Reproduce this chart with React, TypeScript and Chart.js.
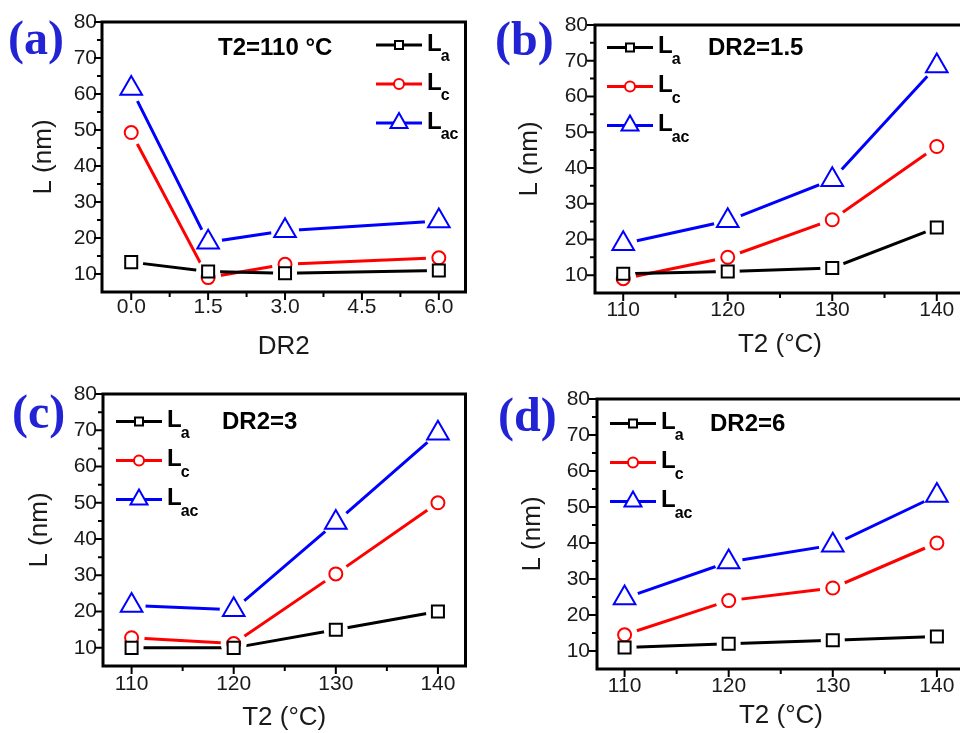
import { useEffect, useRef } from 'react';
import { Chart, registerables } from 'chart.js';

Chart.register(...registerables);

const SANS = '"Liberation Sans", Arial, sans-serif';
const SERIF = '"Liberation Serif", "Times New Roman", serif';

// x positions of the measurements
const dr2Values = [0, 1.5, 3, 6];
const t2Values = [110, 120, 130, 140];

// axis tick values
const dr2Ticks = [0, 1.5, 3, 4.5, 6];
const t2Ticks = [110, 120, 130, 140];
const lTicks = [10, 20, 30, 40, 50, 60, 70, 80];

// (a) T2 = 110 °C, varying DR2
const aLa = [13.3, 10.7, 10.2, 11.0];
const aLc = [49.3, 9.0, 12.7, 14.5];
const aLac = [61.5, 18.8, 22.0, 24.7];

// (b) DR2 = 1.5, varying T2
const bLa = [10.4, 11.0, 12.0, 23.3];
const bLc = [9.0, 15.0, 25.5, 46.0];
const bLac = [18.8, 25.2, 36.7, 68.5];

// (c) DR2 = 3, varying T2
const cLa = [10.0, 10.0, 15.0, 20.0];
const cLc = [12.8, 11.2, 30.4, 50.0];
const cLac = [21.7, 20.5, 44.6, 69.2];

// (d) DR2 = 6, varying T2
const dLa = [11.0, 12.0, 13.0, 14.0];
const dLc = [14.5, 24.0, 27.5, 40.0];
const dLac = [24.7, 34.7, 39.4, 53.2];

// series: L with subscripts a, c, ac
const seriesSubs = ['a', 'c', 'ac'];
const seriesColors = ['#000000', '#ff0000', '#0000ff'];
const seriesStyles = ['rect', 'circle', 'triangle'];
const markerRadius = [8.5, 6.5, 12.5];
const haloRadius = [12, 13, 14];

type Panel = {
  tag: string;
  note: string;
  xs: number[];
  xTicks: number[];
  xDecimals: number;
  xTitle: string;
  series: number[][];
  x: number;
  y: number;
  w: number;
  h: number;
  area: { l: number; t: number; r: number; b: number };
  xMin: number;
  xMax: number;
  yTitleX: number;
  xTickY: number;
  xTitleY: number;
  yLabelGap: number;
  tagX: number;
  tagBase: number;
  noteX: number;
  noteBase: number;
  legX: number;
  legY: number;
};

const panels: Panel[] = [
  {
    tag: '(a)', note: 'T2=110 °C', xs: dr2Values, xTicks: dr2Ticks, xDecimals: 1, xTitle: 'DR2',
    series: [aLa, aLc, aLac],
    x: 0, y: 0, w: 480, h: 366,
    area: { l: 102, t: 22, r: 473, b: 292 },
    xMin: -0.57, xMax: 6.52,
    yTitleX: 43.5, xTickY: 307.5, xTitleY: 347, yLabelGap: 5,
    tagX: 8, tagBase: 53.5, noteX: 218, noteBase: 55, legX: 376, legY: 45,
  },
  {
    tag: '(b)', note: 'DR2=1.5', xs: t2Values, xTicks: t2Ticks, xDecimals: 0, xTitle: 'T2 (°C)',
    series: [bLa, bLc, bLac],
    x: 480, y: 0, w: 500, h: 366,
    area: { l: 115, t: 25, r: 485, b: 293 },
    xMin: 107.3, xMax: 142.7,
    yTitleX: 50, xTickY: 310, xTitleY: 345, yLabelGap: 7,
    tagX: 15, tagBase: 54.5, noteX: 228, noteBase: 55, legX: 127, legY: 47.5,
  },
  {
    tag: '(c)', note: 'DR2=3', xs: t2Values, xTicks: t2Ticks, xDecimals: 0, xTitle: 'T2 (°C)',
    series: [cLa, cLc, cLac],
    x: 0, y: 366, w: 480, h: 367,
    area: { l: 103, t: 28, r: 473, b: 300 },
    xMin: 107.2, xMax: 142.7,
    yTitleX: 40, xTickY: 318, xTitleY: 352, yLabelGap: 6,
    tagX: 12, tagBase: 61.5, noteX: 222, noteBase: 63, legX: 116, legY: 55.5,
  },
  {
    tag: '(d)', note: 'DR2=6', xs: t2Values, xTicks: t2Ticks, xDecimals: 0, xTitle: 'T2 (°C)',
    series: [dLa, dLc, dLac],
    x: 480, y: 366, w: 500, h: 367,
    area: { l: 117, t: 33, r: 485, b: 303 },
    xMin: 107.35, xMax: 142.7,
    yTitleX: 53, xTickY: 320, xTitleY: 350, yLabelGap: 7,
    tagX: 18, tagBase: 64.5, noteX: 230, noteBase: 65, legX: 130, legY: 57.5,
  },
];

const TEXT = '#1a1a1a';
const TICK_SIZE = 21;
const TITLE_SIZE = 26;

function drawLegendMarker(ctx: CanvasRenderingContext2D, style: string, x: number, y: number, color: string) {
  ctx.beginPath();
  if (style === 'rect') {
    ctx.rect(x - 4, y - 4, 8, 8);
  } else if (style === 'circle') {
    ctx.arc(x, y, 5, 0, Math.PI * 2);
  } else {
    ctx.moveTo(x, y - 10);
    ctx.lineTo(x - 8.5, y + 5);
    ctx.lineTo(x + 8.5, y + 5);
    ctx.closePath();
  }
  ctx.fillStyle = '#fff';
  ctx.fill();
  ctx.strokeStyle = color;
  ctx.lineWidth = 2;
  ctx.stroke();
}

function makeDecor(p: Panel) {
  return {
    id: 'panelDecor',
    afterDraw(chart: any) {
      const { ctx, chartArea: a } = chart;
      const xs = chart.scales.x;
      const ys = chart.scales.y;
      ctx.save();

      // outward major / minor ticks
      ctx.strokeStyle = '#000';
      ctx.lineWidth = 2;
      ctx.beginPath();
      p.xTicks.forEach((v, i) => {
        const px = xs.getPixelForValue(v);
        ctx.moveTo(px, a.bottom);
        ctx.lineTo(px, a.bottom + 8);
        if (i < p.xTicks.length - 1) {
          const m = xs.getPixelForValue((v + p.xTicks[i + 1]) / 2);
          ctx.moveTo(m, a.bottom);
          ctx.lineTo(m, a.bottom + 5);
        }
      });
      lTicks.forEach((v, i) => {
        const py = ys.getPixelForValue(v);
        ctx.moveTo(a.left, py);
        ctx.lineTo(a.left - 8, py);
        if (i < lTicks.length - 1) {
          const m = ys.getPixelForValue((v + lTicks[i + 1]) / 2);
          ctx.moveTo(a.left, m);
          ctx.lineTo(a.left - 5, m);
        }
      });
      ctx.stroke();

      // frame
      ctx.lineWidth = 3;
      ctx.strokeRect(a.left, a.top, a.right - a.left, a.bottom - a.top);

      // panel tag
      ctx.fillStyle = '#2323d6';
      ctx.font = `bold 48px ${SERIF}`;
      ctx.textAlign = 'left';
      ctx.textBaseline = 'alphabetic';
      ctx.fillText(p.tag, p.tagX, p.tagBase);

      // condition note
      ctx.fillStyle = '#000';
      ctx.font = `bold 24px ${SANS}`;
      ctx.fillText(p.note, p.noteX, p.noteBase);

      // legend
      seriesSubs.forEach((sub, i) => {
        const y = p.legY + i * 39;
        const x0 = p.legX;
        ctx.strokeStyle = seriesColors[i];
        ctx.lineWidth = 3;
        ctx.beginPath();
        ctx.moveTo(x0, y);
        ctx.lineTo(x0 + 46, y);
        ctx.stroke();
        drawLegendMarker(ctx, seriesStyles[i], x0 + 23, y, seriesColors[i]);
        ctx.fillStyle = '#000';
        ctx.font = `bold 24px ${SANS}`;
        ctx.fillText('L', x0 + 51, y + 5.5);
        const lw = ctx.measureText('L').width;
        ctx.font = `bold 16px ${SANS}`;
        ctx.fillText(sub, x0 + 51 + lw - 1, y + 16);
      });

      ctx.restore();
    },
  };
}

function buildDatasets(p: Panel) {
  const lines: any[] = [];
  const halos: any[] = [];
  const marks: any[] = [];
  p.series.forEach((vals, i) => {
    const pts = p.xs.map((x, k) => ({ x, y: vals[k] }));
    lines.push({
      data: pts,
      borderColor: seriesColors[i],
      borderWidth: 3,
      pointRadius: 0,
      tension: 0,
      fill: false,
      order: 3,
    });
    halos.push({
      data: pts,
      showLine: false,
      pointStyle: 'circle',
      pointRadius: haloRadius[i],
      pointBackgroundColor: '#ffffff',
      pointBorderColor: '#ffffff',
      pointBorderWidth: 0,
      order: 2,
    });
    marks.push({
      data: pts,
      showLine: false,
      pointStyle: seriesStyles[i],
      pointRadius: markerRadius[i],
      pointBackgroundColor: '#ffffff',
      pointBorderColor: seriesColors[i],
      pointBorderWidth: 2,
      order: 1,
    });
  });
  return [...lines, ...halos, ...marks];
}

function PanelChart({ p }: { p: Panel }) {
  const ref = useRef<HTMLCanvasElement | null>(null);

  useEffect(() => {
    if (!ref.current) return;
    const tickFont = { family: SANS, size: TICK_SIZE };
    const titleFont = { family: SANS, size: TITLE_SIZE };
    const tickHalf = (TICK_SIZE * 1.2) / 2;
    const titleHalf = (TITLE_SIZE * 1.2) / 2;
    const chart = new Chart(ref.current, {
      type: 'line',
      data: { datasets: buildDatasets(p) },
      options: {
        animation: false,
        responsive: false,
        devicePixelRatio: 1,
        events: [],
        layout: { padding: { left: 0, top: p.area.t, right: p.w - p.area.r, bottom: 0 } },
        plugins: { legend: { display: false }, tooltip: { enabled: false } },
        scales: {
          x: {
            type: 'linear',
            position: 'bottom',
            min: p.xMin,
            max: p.xMax,
            afterBuildTicks: (s: any) => {
              s.ticks = p.xTicks.map((v) => ({ value: v }));
            },
            afterFit: (s: any) => {
              s.height = p.h - p.area.b;
            },
            grid: { display: false, drawTicks: false },
            border: { display: false },
            ticks: {
              font: tickFont,
              color: TEXT,
              padding: p.xTickY - p.area.b - tickHalf,
              maxRotation: 0,
              autoSkip: false,
              callback: (v: any) => Number(v).toFixed(p.xDecimals),
            },
            title: {
              display: true,
              text: p.xTitle,
              font: titleFont,
              color: TEXT,
              padding: { top: 0, bottom: Math.max(0, p.h - p.xTitleY - titleHalf) },
            },
          },
          y: {
            type: 'linear',
            position: 'left',
            min: 5,
            max: 80,
            afterBuildTicks: (s: any) => {
              s.ticks = lTicks.map((v) => ({ value: v }));
            },
            afterFit: (s: any) => {
              s.width = p.area.l;
            },
            grid: { display: false, drawTicks: false },
            border: { display: false },
            ticks: {
              font: tickFont,
              color: TEXT,
              padding: p.yLabelGap,
              autoSkip: false,
              callback: (v: any) => String(v),
            },
            title: {
              display: true,
              text: 'L (nm)',
              font: titleFont,
              color: TEXT,
              padding: { top: p.yTitleX - titleHalf, bottom: 0 },
            },
          },
        },
      },
      plugins: [makeDecor(p)],
    } as any);
    return () => chart.destroy();
  }, [p]);

  return (
    <canvas
      ref={ref}
      width={p.w}
      height={p.h}
      style={{ position: 'absolute', left: p.x, top: p.y, width: p.w, height: p.h }}
    />
  );
}

export default function App() {
  return (
    <div
      style={{
        position: 'absolute',
        left: 0,
        top: 0,
        width: 960,
        height: 733,
        overflow: 'hidden',
        background: '#ffffff',
      }}
    >
      {panels.map((p) => (
        <PanelChart key={p.tag} p={p} />
      ))}
    </div>
  );
}
